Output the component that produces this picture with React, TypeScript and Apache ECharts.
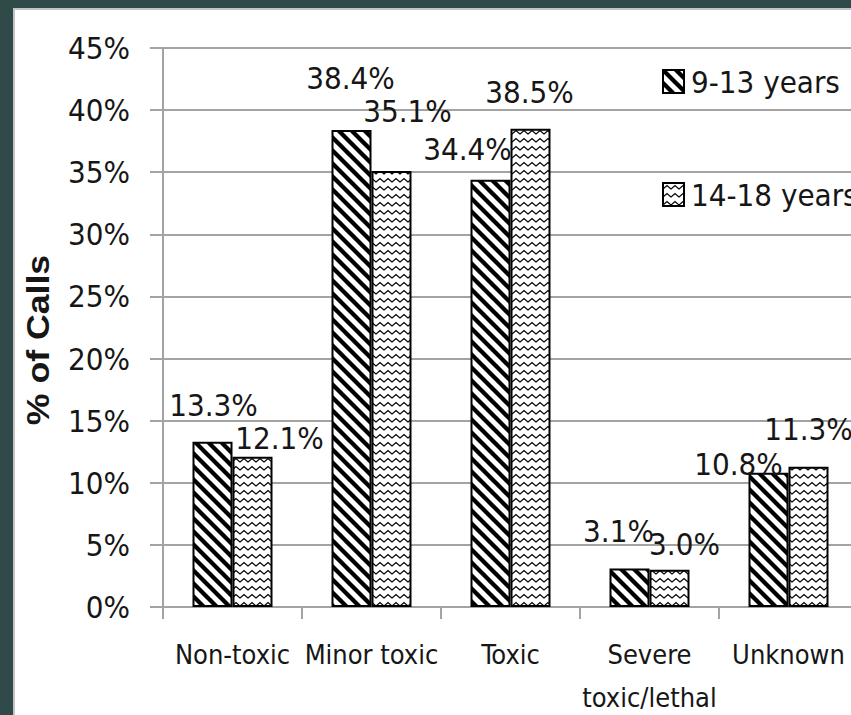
import React, { useEffect, useRef } from 'react';
import * as echarts from 'echarts';

const categories = ['Non-toxic', 'Minor toxic', 'Toxic', 'Severe\ntoxic/lethal', 'Unknown'];
const seriesNames = ['9-13 years', '14-18 years'];
const values913 = [13.3, 38.4, 34.4, 3.1, 10.8];
const values1418 = [12.1, 35.1, 38.5, 3.0, 11.3];
const yMin = 0;
const yMax = 45;
const yStep = 5;

const FONT = "'DejaVu Sans Condensed', 'DejaVu Sans', sans-serif";
const TEXT = '#161616';
const GRID = '#a3a3a3';
const DARK = '#2f4a49';

function makeStripe() {
  const s = 13;
  const c = document.createElement('canvas');
  c.width = s;
  c.height = s;
  const ctx = c.getContext('2d')!;
  ctx.fillStyle = '#fff';
  ctx.fillRect(0, 0, s, s);
  ctx.strokeStyle = '#000';
  ctx.lineWidth = 4.3;
  for (const k of [-s, 0, s]) {
    ctx.beginPath();
    ctx.moveTo(k - 3, -3);
    ctx.lineTo(k + s + 3, s + 3);
    ctx.stroke();
  }
  return { image: c, repeat: 'repeat', imageWidth: s, imageHeight: s };
}

function makeZigzag() {
  const w = 8;
  const h = 8;
  const c = document.createElement('canvas');
  c.width = w;
  c.height = h;
  const ctx = c.getContext('2d')!;
  ctx.fillStyle = '#fff';
  ctx.fillRect(0, 0, w, h);
  ctx.strokeStyle = '#000';
  ctx.lineWidth = 1.3;
  ctx.beginPath();
  ctx.moveTo(-1, 6.5);
  ctx.lineTo(0, 6);
  ctx.lineTo(4, 2.5);
  ctx.lineTo(8, 6);
  ctx.lineTo(9, 6.5);
  ctx.stroke();
  return { image: c, repeat: 'repeat', imageWidth: w, imageHeight: h };
}

export default function App() {
  const ref = useRef<HTMLDivElement>(null);

  useEffect(() => {
    if (!ref.current) return;
    const chart = echarts.init(ref.current, undefined, { renderer: 'svg' });

    const offsetsA = [[1, -16], [-1, -31], [-23, -10], [-11, -17], [-30, 12]];
    const offsetsB = [[27, 2], [16, -39], [-1, -16], [15, -5], [0, -17]];

    const labelBase = {
      show: true,
      position: 'top',
      distance: 5,
      fontSize: 31,
      fontFamily: FONT,
      color: TEXT,
      formatter: (p: any) => Number(p.value).toFixed(1) + '%',
    };

    const option: any = {
      animation: false,
      backgroundColor: '#fff',
      textStyle: { fontFamily: FONT, color: TEXT },
      grid: {
        left: 163,
        top: 48,
        width: 695,
        height: 559,
        containLabel: false,
        outerBoundsMode: 'none',
      },
      legend: {
        orient: 'vertical',
        left: 662,
        top: 66,
        padding: 0,
        itemWidth: 21,
        itemHeight: 23,
        itemGap: 82,
        icon: 'rect',
        data: seriesNames,
        textStyle: { fontSize: 31, fontFamily: FONT, color: TEXT, padding: [0, 0, 0, 2] },
      },
      xAxis: {
        type: 'category',
        data: categories,
        axisLine: { show: true, lineStyle: { color: GRID, width: 2 } },
        axisTick: { show: true, length: 12, alignWithLabel: false, lineStyle: { color: GRID, width: 2 } },
        axisLabel: {
          interval: 0,
          margin: 26,
          fontSize: 27,
          lineHeight: 43,
          fontFamily: FONT,
          color: TEXT,
        },
        splitLine: { show: false },
      },
      yAxis: {
        type: 'value',
        min: yMin,
        max: yMax,
        interval: yStep,
        axisLine: { show: true, lineStyle: { color: GRID, width: 2 } },
        axisTick: { show: true, length: 13, lineStyle: { color: GRID, width: 2 } },
        axisLabel: {
          formatter: '{value}%',
          margin: 33,
          fontSize: 31,
          fontFamily: FONT,
          color: TEXT,
        },
        splitLine: { show: true, lineStyle: { color: GRID, width: 2 } },
      },
      series: [
        {
          name: seriesNames[0],
          type: 'bar',
          barWidth: 40,
          barGap: '0%',
          itemStyle: { color: makeStripe(), borderColor: '#000', borderWidth: 2 },
          label: labelBase,
          data: values913.map((v, i) => ({ value: v, label: { offset: offsetsA[i] } })),
        },
        {
          name: seriesNames[1],
          type: 'bar',
          barWidth: 40,
          barGap: '0%',
          itemStyle: { color: makeZigzag(), borderColor: '#000', borderWidth: 2 },
          label: labelBase,
          data: values1418.map((v, i) => ({ value: v, label: { offset: offsetsB[i] } })),
        },
      ],
      graphic: [
        { type: 'rect', shape: { x: 0, y: 0, width: 900, height: 8 }, style: { fill: DARK }, silent: true },
        { type: 'rect', shape: { x: 0, y: 0, width: 13, height: 715 }, style: { fill: DARK }, silent: true },
        { type: 'rect', shape: { x: 13, y: 8, width: 900, height: 2 }, style: { fill: '#c4c4c4' }, silent: true },
        { type: 'rect', shape: { x: 13, y: 8, width: 2, height: 715 }, style: { fill: '#c4c4c4' }, silent: true },
        {
          type: 'text',
          x: 38,
          y: 340,
          rotation: Math.PI / 2,
          scaleX: 1.15,
          style: {
            text: '% of Calls',
            fontSize: 31,
            fontWeight: 'bold',
            fontFamily: "'Liberation Sans', Arial, sans-serif",
            fill: TEXT,
            align: 'center',
            verticalAlign: 'middle',
          },
        },
      ],
    };

    chart.setOption(option);
    return () => chart.dispose();
  }, []);

  return (
    <div style={{ position: 'fixed', left: 0, top: 0, width: 851, height: 715, overflow: 'hidden', background: '#fff' }}>
      <div ref={ref} style={{ width: 900, height: 715 }} />
    </div>
  );
}
